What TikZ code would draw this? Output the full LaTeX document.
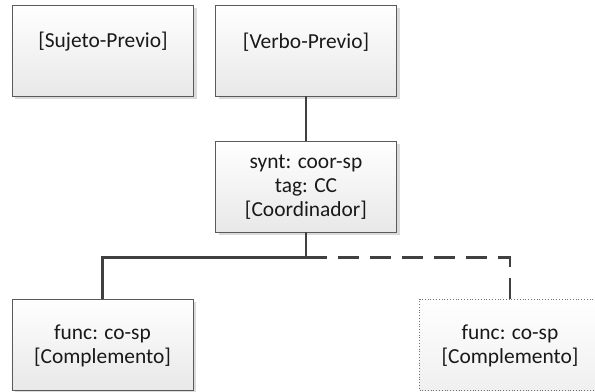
\documentclass[tikz,border=0pt]{standalone}
\usepackage{fontspec}
\setmainfont{Carlito}
\usetikzlibrary{shadows}
\definecolor{boxline}{HTML}{5A5A5A}
\definecolor{wire}{HTML}{404040}
\tikzset{
  x=1bp, y=-1bp,
  box/.style={rectangle, draw=boxline, line width=0.9bp,
    minimum width=181bp, minimum height=91bp, inner sep=0pt,
    top color=white, bottom color=black!9,
    drop shadow={shadow xshift=3bp, shadow yshift=-3bp, fill=black!14, opacity=1}},
  ghostbox/.style={rectangle, draw=black!55, dotted, line width=0.8bp,
    minimum width=181bp, minimum height=91bp, inner sep=0pt,
    top color=white, bottom color=black!6},
  txt/.style={align=center, inner sep=0pt, font=\fontsize{21.5}{24}\selectfont, text=black!90},
  wireline/.style={draw=wire, line width=2.6bp},
  dashwire/.style={wireline, dash pattern=on 21bp off 11bp}
}
\begin{document}
\begin{tikzpicture}
\useasboundingbox (0,0) rectangle (595,391);
% top row
\node[box] (suj) at (103,50.5) {};
\node[txt] (sujt) at (103,42) {[Sujeto-Previo]};
\node[box] (verb) at (306,50.5) {};
\node[txt] (verbt) at (306,42) {[Verbo-Previo]};
% coordinator
\node[box] (coor) at (306,186.5) {};
\node[txt] (coort) at (306,187) {synt: coor-sp\\tag: CC\\{}[Coordinador]};
% complements
\node[box] (comp1) at (102.5,344.5) {};
\node[txt] (comp1t) at (102.5,346) {func: co-sp\\{}[Complemento]};
\node[ghostbox] (comp2) at (510,344.5) {};
\node[txt] (comp2t) at (510,346) {func: co-sp\\{}[Complemento]};
% branching point below the coordinator
\coordinate (fork) at (306,257.5);
\draw[wireline] (verb.south) -- (coor.north);
\draw[wireline] (coor.south) -- (fork) -| (comp1.north);
\draw[dashwire] (fork) -| (comp2.north);
\end{tikzpicture}
\end{document}
